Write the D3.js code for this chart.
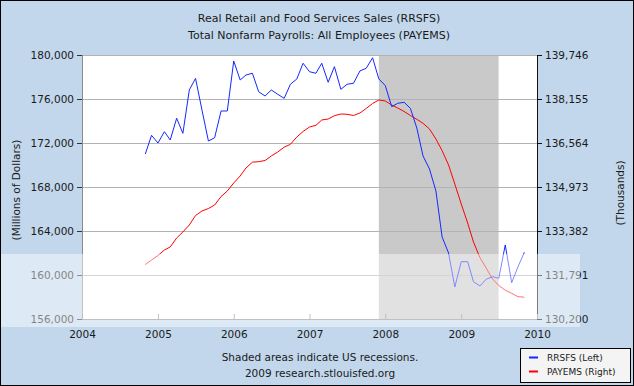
<!DOCTYPE html>
<html>
<head>
<meta charset="utf-8">
<script src="https://cdn.jsdelivr.net/npm/d3@7"></script>
<style>
  body { margin: 0; background: #fff; }
  svg { display: block; font-family: "DejaVu Sans", Verdana, sans-serif; }
</style>
</head>
<body>
<svg width="634" height="386"></svg>
<script>
// Monthly series, first value is Nov 2004
const firstMonth = "2004-11-01";

// RRSFS - Real Retail and Food Services Sales (left axis, millions of dollars)
const rrsfs = [
    171000, 172700, 172000, 173030, 172270, 174250, 172880, 176820, 177880, 175000,
    172180, 172480, 174910, 174910, 179450, 177730, 178180, 178340, 176660, 176270,
    176820, 176430, 176060, 177340, 177820, 179250, 178480, 178340, 179250, 177520,
    178940, 176880, 177340, 177430, 178550, 178790, 179750, 177820, 177230, 175300,
    175610, 175700, 175150, 173360, 170820, 169640, 167640, 163450, 162000, 158910,
    161210, 161210, 159390, 159000, 159610, 159850, 159700, 162730, 159300, 160730,
    162060
];

// PAYEMS - Total Nonfarm Payrolls (right axis, thousands)
const payems = [
    132171, 132333, 132496, 132695, 132803, 133129, 133346, 133599, 133942, 134105,
    134195, 134322, 134629, 134828, 135118, 135371, 135660, 135870, 135888, 135931,
    136094, 136238, 136412, 136517, 136781, 136980, 137142, 137204, 137396, 137432,
    137551, 137613, 137602, 137558, 137649, 137811, 137992, 138119, 138083, 137938,
    137830, 137703, 137558, 137421, 137276, 137070, 136709, 136285, 135768, 135081,
    134358, 133671, 132984, 132424, 132044, 131646, 131411, 131241, 131129, 131006,
    130990
];

const leftTicks = [156000, 160000, 164000, 168000, 172000, 176000, 180000];
const rightTicks = [130200, 131791, 133382, 134973, 136564, 138155, 139746];
const yearTicks = [2004, 2005, 2006, 2007, 2008, 2009, 2010];
const recession = ["2007-12-01", "2009-06-30"];

const titleLines = [
    "Real Retail and Food Services Sales (RRSFS)",
    "Total Nonfarm Payrolls: All Employees (PAYEMS)"
];
const noteLines = ["Shaded areas indicate US recessions.", "2009 research.stlouisfed.org"];
const legendItems = [
    { name: "RRSFS (Left)", color: "#1428ff" },
    { name: "PAYEMS (Right)", color: "#ff0000" }
];

let svg = d3.select("svg");
let W = 634, H = 386;
let pLeft = 82, pRight = 537, pTop = 55, pBottom = 319;

// background + plot area
svg.append("rect").attr("width", W).attr("height", H).attr("fill", "#c2d7eb");
svg.append("rect").attr("x", pLeft).attr("y", pTop)
    .attr("width", pRight - pLeft).attr("height", pBottom - pTop)
    .attr("fill", "#fff");

let parse = d3.timeParse("%Y-%m-%d");
let start = parse(firstMonth);
let dates = rrsfs.map((d, i) => d3.timeMonth.offset(start, i));

let x = d3.scaleTime()
    .domain([new Date(2004, 0, 1), new Date(2010, 0, 1)])
    .range([pLeft, pRight]);
let yL = d3.scaleLinear().domain([156000, 180000]).range([pBottom, pTop]);
let yR = d3.scaleLinear().domain([130200, 139746]).range([pBottom, pTop]);

// recession shading
svg.append("rect")
    .attr("x", x(parse(recession[0])))
    .attr("y", pTop)
    .attr("width", x(parse(recession[1])) - x(parse(recession[0])))
    .attr("height", pBottom - pTop)
    .attr("fill", "#c9c9c9");

// grid lines
svg.append("g")
    .attr("transform", "translate(" + pLeft + ",0)")
    .call(d3.axisLeft(yL).tickValues(leftTicks).tickSize(-(pRight - pLeft)).tickFormat(""))
    .call(g => g.select(".domain").remove())
    .call(g => g.selectAll("line").attr("stroke", "#b3b3b3"));

// left axis
let axL = svg.append("g")
    .attr("transform", "translate(" + pLeft + ",0)")
    .call(d3.axisLeft(yL).tickValues(leftTicks).tickSize(5).tickPadding(3)
        .tickFormat(d3.format(",")));
axL.select(".domain").attr("stroke", "#8c8c8c").attr("d", "M0.5," + pTop + "V" + pBottom);
axL.selectAll("line").attr("stroke", "#333");
axL.selectAll("text").attr("font-size", "10.5px").attr("fill", "#1a1a1a")
    .attr("font-family", "DejaVu Sans");

// right axis
let axR = svg.append("g")
    .attr("transform", "translate(" + pRight + ",0)")
    .call(d3.axisRight(yR).tickValues(rightTicks).tickSize(5).tickPadding(3)
        .tickFormat(d3.format(",")));
axR.select(".domain").attr("stroke", "#111").attr("d", "M0.5," + pTop + "V" + pBottom);
axR.selectAll("line").attr("stroke", "#111");
axR.selectAll("text").attr("font-size", "10.5px").attr("fill", "#1a1a1a")
    .attr("font-family", "DejaVu Sans");

// bottom axis, ticks point up into the plot
let axB = svg.append("g")
    .attr("transform", "translate(0," + pBottom + ")")
    .call(d3.axisBottom(x).tickValues(yearTicks.map(d => new Date(d, 0, 1)))
        .tickSize(-5).tickPadding(12).tickFormat(d3.timeFormat("%Y")));
axB.select(".domain").attr("stroke", "#8c8c8c").attr("d", "M" + pLeft + ",0.5H" + pRight);
axB.selectAll("line").attr("stroke", "#8c8c8c");
axB.selectAll("text").attr("font-size", "10.5px").attr("fill", "#1a1a1a")
    .attr("font-family", "DejaVu Sans");

// series lines
let lineL = d3.line().x((d, i) => x(dates[i])).y(d => yL(d));
let lineR = d3.line().x((d, i) => x(dates[i])).y(d => yR(d));

svg.append("path").datum(payems)
    .attr("d", lineR).attr("fill", "none")
    .attr("stroke", legendItems[1].color).attr("stroke-width", 1);
svg.append("path").datum(rrsfs)
    .attr("d", lineL).attr("fill", "none")
    .attr("stroke", legendItems[0].color).attr("stroke-width", 1);

// axis titles
svg.append("text")
    .attr("transform", "translate(20,190) rotate(-90)")
    .attr("text-anchor", "middle").attr("font-size", "10.5px").attr("fill", "#1a1a1a")
    .text("(Millions of Dollars)");
svg.append("text")
    .attr("transform", "translate(624,193) rotate(-90)")
    .attr("text-anchor", "middle").attr("font-size", "10.5px").attr("fill", "#1a1a1a")
    .text("(Thousands)");

// title
svg.selectAll(".title").data(titleLines).enter().append("text")
    .attr("class", "title")
    .attr("x", 319).attr("y", (d, i) => 22 + i * 17)
    .attr("text-anchor", "middle").attr("font-size", "11px").attr("fill", "#1a1a1a")
    .text(d => d);

// footer notes
svg.selectAll(".note").data(noteLines).enter().append("text")
    .attr("class", "note")
    .attr("x", 320).attr("y", (d, i) => 361 + i * 16)
    .attr("text-anchor", "middle").attr("font-size", "10.5px").attr("fill", "#1a1a1a")
    .text(d => d);

// legend
let lg = svg.append("g").attr("transform", "translate(520,348)");
lg.append("rect").attr("x", 0.5).attr("y", 0.5).attr("width", 110).attr("height", 34)
    .attr("fill", "#f4f4f4").attr("stroke", "#000");
lg.selectAll(".key").data(legendItems).enter().append("line")
    .attr("x1", 9).attr("x2", 18)
    .attr("y1", (d, i) => 9.5 + i * 14).attr("y2", (d, i) => 9.5 + i * 14)
    .attr("stroke", d => d.color).attr("stroke-width", 2);
lg.selectAll(".lab").data(legendItems).enter().append("text")
    .attr("x", 27).attr("y", (d, i) => 13 + i * 14)
    .attr("font-size", "9px").attr("fill", "#1a1a1a")
    .text(d => d.name);

// translucent white band that sits over the lower part of the source image
svg.append("rect").attr("x", 0).attr("y", 254).attr("width", 580).attr("height", 73)
    .attr("fill", "#fff").attr("opacity", 0.45);

// outer border
svg.append("rect").attr("x", 0.5).attr("y", 0.5).attr("width", W - 1).attr("height", H - 1)
    .attr("fill", "none").attr("stroke", "#000");
</script>
</body>
</html>
